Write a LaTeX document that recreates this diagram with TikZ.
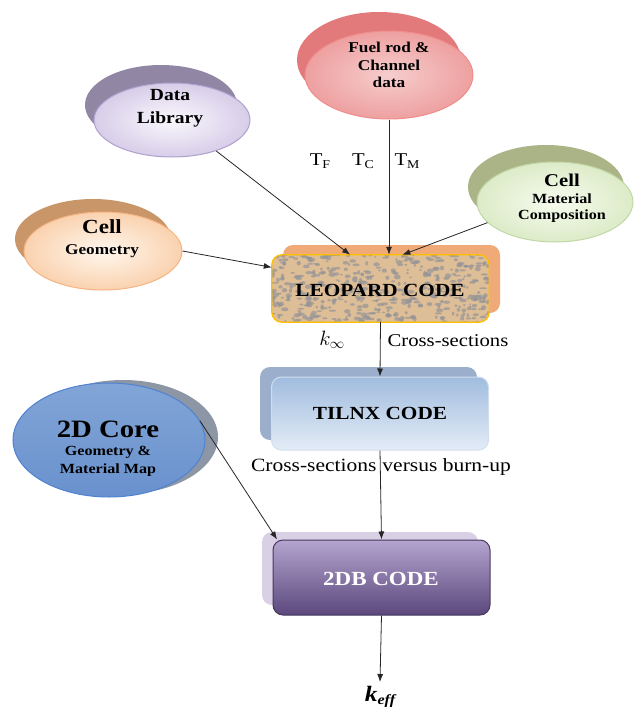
\documentclass[tikz,border=0pt]{standalone}
\usepackage{fontspec}
\setmainfont{Liberation Serif}[FakeStretch=1.15]
\usetikzlibrary{arrows.meta,shapes.geometric,calc}
\definecolor{fuelsh}{RGB}{226,122,124}
\definecolor{fuelin}{RGB}{246,205,205}
\definecolor{fuelout}{RGB}{238,160,160}
\definecolor{fuelbd}{RGB}{240,140,140}
\definecolor{datash}{RGB}{145,135,165}
\definecolor{datain}{RGB}{250,248,253}
\definecolor{dataout}{RGB}{215,205,232}
\definecolor{databd}{RGB}{175,160,205}
\definecolor{geosh}{RGB}{200,150,105}
\definecolor{geoin}{RGB}{255,247,238}
\definecolor{geoout}{RGB}{250,210,175}
\definecolor{geobd}{RGB}{245,180,130}
\definecolor{matsh}{RGB}{170,180,135}
\definecolor{matin}{RGB}{247,251,238}
\definecolor{matout}{RGB}{220,235,200}
\definecolor{matbd}{RGB}{195,215,165}
\definecolor{coresh}{RGB}{140,150,165}
\definecolor{coreA}{RGB}{130,165,215}
\definecolor{coreB}{RGB}{68,120,192}
\definecolor{coreC}{RGB}{105,145,205}
\definecolor{corebd}{RGB}{80,130,210}
\definecolor{leosh}{RGB}{240,170,120}
\definecolor{leobg}{RGB}{222,190,150}
\definecolor{spot}{RGB}{148,148,152}
\definecolor{leobd}{RGB}{255,190,0}
\definecolor{tilsh}{RGB}{155,175,205}
\definecolor{tiltop}{RGB}{160,188,222}
\definecolor{tilbot}{RGB}{228,236,247}
\definecolor{tilbd}{RGB}{210,222,240}
\definecolor{dbsh}{RGB}{218,208,230}
\definecolor{dbtop}{RGB}{180,164,207}
\definecolor{dbbot}{RGB}{92,72,125}
\definecolor{dbbd}{RGB}{70,55,95}
\begin{document}
\begin{tikzpicture}[x=1pt,y=-1pt,
  arr/.style={-{Latex[length=8pt,width=6pt]}, line width=0.8pt, black!85},
  ell/.style={ellipse, draw, line width=1pt, inner sep=0pt},
  codebox/.style={rectangle, rounded corners=10pt, inner sep=0pt, minimum width=217pt},
  lbl/.style={inner sep=0pt, align=center, text=black},
  fs/.style={font=\bfseries\fontsize{#1}{#1}\selectfont}]
\useasboundingbox (0,0) rectangle (633,715);

% ---- Fuel rod ellipse
\fill[fuelsh] (379,60) ellipse (82 and 48);
\node[ell, draw=fuelbd, inner color=fuelin, outer color=fuelout,
      minimum width=168pt, minimum height=88pt] (fuel) at (389,75) {};
\node[lbl, font=\bfseries\fontsize{15}{17.5}\selectfont] (fueltxt) at (389,65) {Fuel rod \&\\Channel\\data};

% ---- Data Library
\fill[datash] (161,105) ellipse (76 and 40);
\node[ell, draw=databd, inner color=datain, outer color=dataout,
      minimum width=156pt, minimum height=74pt] (data) at (172,120) {};
\node[lbl, font=\bfseries\fontsize{17}{23}\selectfont] (datatxt) at (170,108) {Data\\Library};

% ---- Cell Geometry
\fill[geosh] (93,239) ellipse (78 and 40);
\node[ell, draw=geobd, inner color=geoin, outer color=geoout,
      minimum width=158pt, minimum height=78pt] (geo) at (103,251) {};
\node[lbl, fs=20] (geoA) at (102,227) {Cell};
\node[lbl, fs=15] (geoB) at (102,251) {Geometry};

% ---- Cell Material Composition
\fill[matsh] (546,187) ellipse (78 and 42);
\node[ell, draw=matbd, inner color=matin, outer color=matout,
      minimum width=156pt, minimum height=80pt] (mat) at (555,202) {};
\node[lbl, fs=18] (matA) at (562,180) {Cell};
\node[lbl, fs=14] (matB) at (562,199) {Material};
\node[lbl, fs=14] (matC) at (562,216) {Composition};

% ---- 2D Core
\fill[coresh] (123,437) ellipse (95 and 57);
\node[ell, draw=corebd, top color=coreA, middle color=coreB, bottom color=coreC,
      minimum width=192pt, minimum height=114pt] (core) at (109,440) {};
\node[lbl, fs=25] (coreA) at (108,429) {2D Core};
\node[lbl, fs=14] (coreB) at (108,452) {Geometry \&};
\node[lbl, fs=14] (coreC) at (108,470) {Material Map};

% ---- LEOPARD CODE
\fill[leosh, rounded corners=10pt] (283,245) rectangle (500,313);
\node[codebox, fill=leobg, minimum height=67pt] (leo) at (380.5,288.5) {};
\begin{scope}
  \clip[rounded corners=10pt] (leo.south west) rectangle (leo.north east);
  \pgfmathsetseed{4242}
  \foreach \i in {1,...,520}{
    \pgfmathsetmacro\xx{270+221*rnd}
    \pgfmathsetmacro\yy{253+71*rnd}
    \pgfmathsetmacro\rx{1.2+2.6*rnd}
    \pgfmathsetmacro\ry{0.8+1.6*rnd}
    \fill[spot, opacity=0.7] (\xx,\yy) ellipse (\rx pt and \ry pt);
  }
\end{scope}
\draw[leobd, line width=1.3pt, rounded corners=10pt] (leo.south west) rectangle (leo.north east);
\node[lbl, fs=18.5] (leotxt) at (380,290) {LEOPARD CODE};

% ---- TILNX CODE
\fill[tilsh, rounded corners=10pt] (260,367) rectangle (477,440);
\node[codebox, draw=tilbd, line width=1pt, top color=tiltop, bottom color=tilbot,
      minimum height=73pt] (til) at (380,413.5) {};
\node[lbl, fs=18.5] (tiltxt) at (380,413) {TILNX CODE};

% ---- 2DB CODE
\fill[dbsh, rounded corners=10pt] (262,532) rectangle (478,605);
\node[codebox, draw=dbbd, line width=1pt, top color=dbtop, bottom color=dbbot,
      minimum height=75pt] (db) at (381.5,577.5) {};
\node[lbl, fs=20, text=white] (dbtxt) at (381,579) {2DB CODE};

% ---- labels
\node[lbl, font=\fontsize{18}{18}\selectfont] (tf) at (320,161) {T{\fontsize{12}{12}\selectfont\raisebox{-2.5pt}{F}}};
\node[lbl, font=\fontsize{18}{18}\selectfont] (tc) at (363,161) {T{\fontsize{12}{12}\selectfont\raisebox{-2.5pt}{C}}};
\node[lbl, font=\fontsize{18}{18}\selectfont] (tm) at (407,161) {T{\fontsize{12}{12}\selectfont\raisebox{-2.5pt}{M}}};
\node[lbl, font=\fontsize{21}{21}\selectfont] (kinf) at (332,340) {$k_\infty$};
\node[lbl, font=\fontsize{18}{18}\selectfont] (cs1) at (448,341) {Cross-sections};
\node[lbl, font=\fontsize{18.7}{18.7}\selectfont] (cs2) at (381,467) {Cross-sections\phantom{i}versus burn-up};
\node[lbl, font=\bfseries\itshape\fontsize{22}{22}\selectfont] (keff) at (380,697) {k{\fontsize{14}{14}\selectfont\raisebox{-3pt}{eff}}};
\coordinate (keffin) at (380,682);

% ---- connectors
\draw[arr] (fuel.south) -- (fuel.south |- leo.north);
\draw[arr] (data.-35) -- (leo.132);
\draw[arr] (mat.197) -- (leo.57);
\draw[arr] (geo.east) -- (leo.169);
\draw[arr] (leo.south) -- (til.north);
\draw[arr] (til.south) -- (db.north);
\draw[arr] (core.12) -- (db.160);
\draw[arr] (db.south) -- (keffin);
\end{tikzpicture}
\end{document}
